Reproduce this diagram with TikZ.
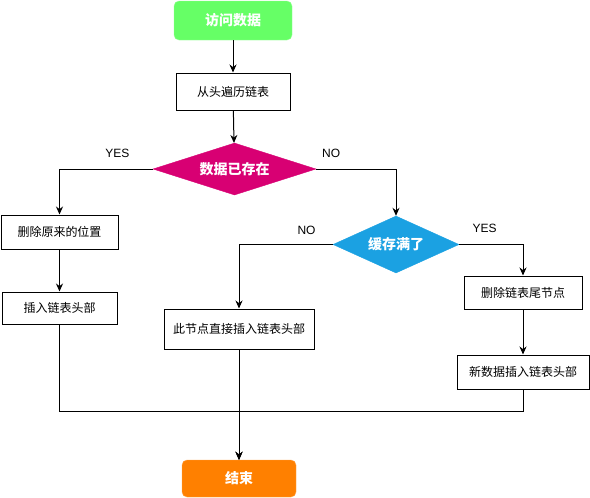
\documentclass[tikz,border=0pt]{standalone}
\usepackage{fontspec}
\usepackage{tikz}
\usetikzlibrary{arrows.meta, shapes.geometric}
\setmainfont{Liberation Sans}
\newfontfamily\cjk{Noto Sans CJK SC}
\definecolor{lrugreen}{HTML}{66FF66}
\definecolor{lrumagenta}{HTML}{D80073}
\definecolor{lrublue}{HTML}{1BA1E2}
\definecolor{lruorange}{HTML}{FF8000}

\begin{document}
\begin{tikzpicture}[
    x=1pt, y=-1pt,
    proc/.style={draw, line width=1pt, fill=white, inner sep=0pt,
                 font=\cjk\fontsize{12}{14}\selectfont},
    term/.style={draw=#1!70!white, fill=#1, rounded corners=5pt, inner sep=0pt,
                 text=white, font=\cjk\bfseries\fontsize{14}{16}\selectfont},
    decision/.style={diamond, draw=#1, fill=#1, inner sep=0pt, shape aspect=3,
                 text=white, font=\cjk\bfseries\fontsize{14}{16}\selectfont},
    arr/.style={line width=1pt, -{Stealth[length=8pt, width=7pt]}},
    lbl/.style={font=\fontsize{12}{14}\selectfont},
]
    \useasboundingbox (0,0) rectangle (590,498);

    \node[term=lrugreen, minimum width=118pt, minimum height=39pt] (start) at (233,20.5) {访问数据};
    \node[proc, minimum width=114pt, minimum height=37pt] (traverse) at (233,91.5) {从头遍历链表};
    \node[decision=lrumagenta, minimum width=163pt, minimum height=52pt] (exists) at (234.5,169) {数据已存在};

    \node[proc, minimum width=117pt, minimum height=34pt] (delold) at (59.5,232) {删除原来的位置};
    \node[proc, minimum width=115pt, minimum height=32pt] (inshead) at (59.5,308) {插入链表头部};

    \node[decision=lrublue, minimum width=126pt, minimum height=57pt] (full) at (396,244.5) {缓存满了};
    \node[proc, minimum width=150pt, minimum height=40pt] (insdirect) at (239,329) {此节点直接插入链表头部};
    \node[proc, minimum width=118pt, minimum height=33pt] (deltail) at (523,292.5) {删除链表尾节点};
    \node[proc, minimum width=132pt, minimum height=34pt] (insnew) at (523,372) {新数据插入链表头部};

    \node[term=lruorange, minimum width=114pt, minimum height=37pt] (finish) at (239,478.5) {结束};

    \coordinate (merge) at (239,411);

    \draw[arr] (start) -- (traverse);
    \draw[arr] (traverse) -- (exists);
    \draw[arr] (exists.west) -| node[lbl, pos=0.19, above=8pt] {YES} (delold.north);
    \draw[arr] (exists.east) -| node[lbl, pos=0.094, above=8pt] {NO} (full.north);
    \draw[arr] (delold) -- (inshead);
    \draw[arr] (full.west) -| node[lbl, pos=0.14, above=6pt] {NO} (insdirect.north);
    \draw[arr] (full.east) -| node[lbl, pos=0.2, above=8pt] {YES} (deltail.north);
    \draw[arr] (deltail) -- (insnew);
    \draw[arr] (insdirect) -- (finish);
    \draw[arr] (inshead.south) |- (merge) -- (finish.north);
    \draw[arr] (insnew.south) |- (merge) -- (finish.north);
\end{tikzpicture}
\end{document}
